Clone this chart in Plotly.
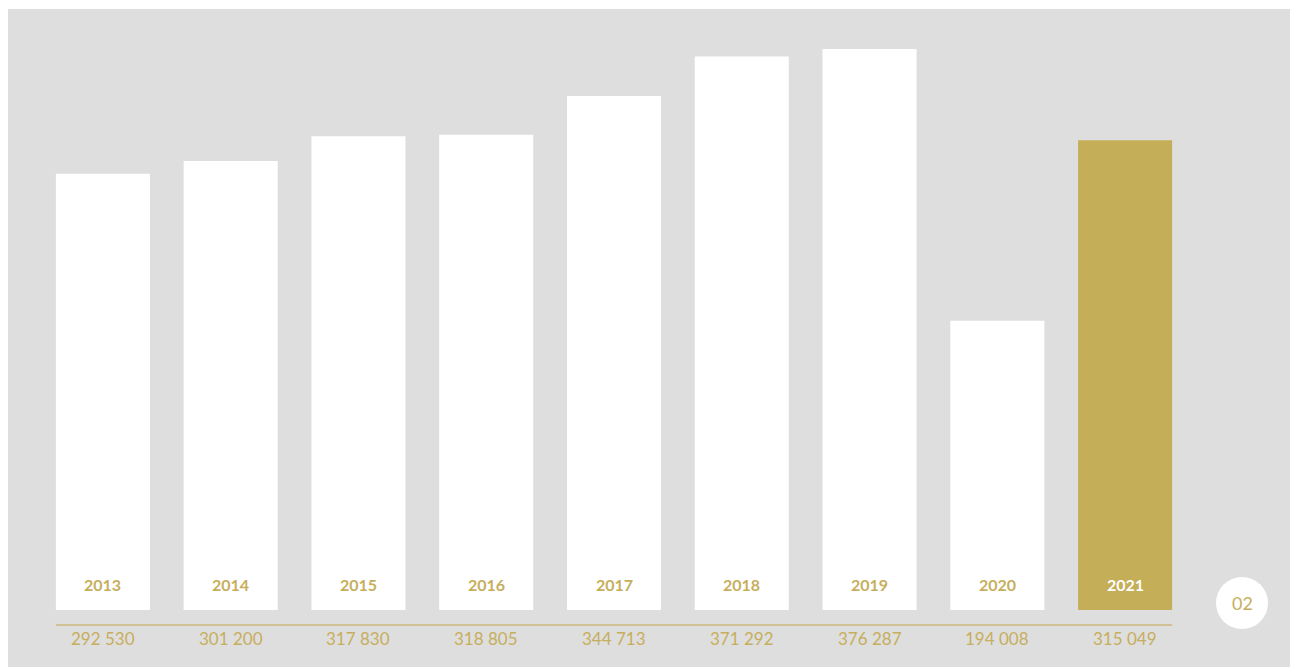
import plotly.graph_objects as go

# Annual figures
years = ["2013", "2014", "2015", "2016", "2017", "2018", "2019", "2020", "2021"]
values = [292530, 301200, 317830, 318805, 344713, 371292, 376287, 194008, 315049]
value_labels = ["292 530", "301 200", "317 830", "318 805", "344 713",
                "371 292", "376 287", "194 008", "315 049"]
highlight_year = "2021"
page_label = "02"

W, H = 1290, 667
GOLD = "#c4ae57"
GOLD_TEXT = "#c6ae5c"
PANEL = "#dedede"
FONT = "Lato, 'Noto Sans', sans-serif"

# plot area in pixels
L, R, T, B = 39, 1189, 40, 610
pw, ph = R - L, B - T


def px_x(x):
    return (x - L) / pw


def px_y(y):
    return (B - y) / ph


pos = list(range(len(years)))
bar_colors = [GOLD if y == highlight_year else "white" for y in years]

fig = go.Figure(
    go.Bar(
        x=pos,
        y=values,
        marker=dict(color=bar_colors, line=dict(width=0)),
        hoverinfo="skip",
    )
)

annotations = []
for i, (y, lab) in enumerate(zip(years, value_labels)):
    annotations.append(dict(
        x=i, y=0, xref="x", yref="y", text=f"<b>{y}</b>", showarrow=False,
        yshift=26, yanchor="middle", xanchor="center",
        font=dict(family=FONT, size=16,
                  color="white" if y == highlight_year else GOLD_TEXT),
    ))
    annotations.append(dict(
        x=i, y=0, xref="x", yref="y", text=lab, showarrow=False,
        yshift=-28, yanchor="middle", xanchor="center",
        font=dict(family=FONT, size=17, color=GOLD_TEXT),
    ))

annotations.append(dict(
    x=px_x(1242), y=px_y(603), xref="paper", yref="paper", text=page_label,
    showarrow=False, xanchor="center", yanchor="middle",
    font=dict(family=FONT, size=18, color=GOLD_TEXT),
))

half = 0.736 / 2
shapes = [
    # grey panel behind the chart
    dict(type="rect", xref="paper", yref="paper", layer="below",
         x0=px_x(8), x1=px_x(1292), y0=px_y(669), y1=px_y(9),
         fillcolor=PANEL, line=dict(width=0)),
    # baseline rule under the bars
    dict(type="line", xref="x", yref="paper",
         x0=-half, x1=len(years) - 1 + half, y0=px_y(625), y1=px_y(625),
         line=dict(color="#cbb978", width=1.5)),
    # page marker
    dict(type="circle", xref="paper", yref="paper",
         x0=px_x(1216), x1=px_x(1268), y0=px_y(629), y1=px_y(577),
         fillcolor="white", line=dict(width=0)),
]

ymax = max(values) * ph / 561

fig.update_layout(
    width=W, height=H, autosize=False,
    margin=dict(l=L, r=W - R, t=T, b=H - B),
    paper_bgcolor="white", plot_bgcolor="rgba(0,0,0,0)",
    bargap=0.264,
    showlegend=False,
    xaxis=dict(visible=False, type="linear", range=[-0.5, len(years) - 0.5]),
    yaxis=dict(visible=False, range=[0, ymax]),
    annotations=annotations,
    shapes=shapes,
)

fig.write_html("out.html")
